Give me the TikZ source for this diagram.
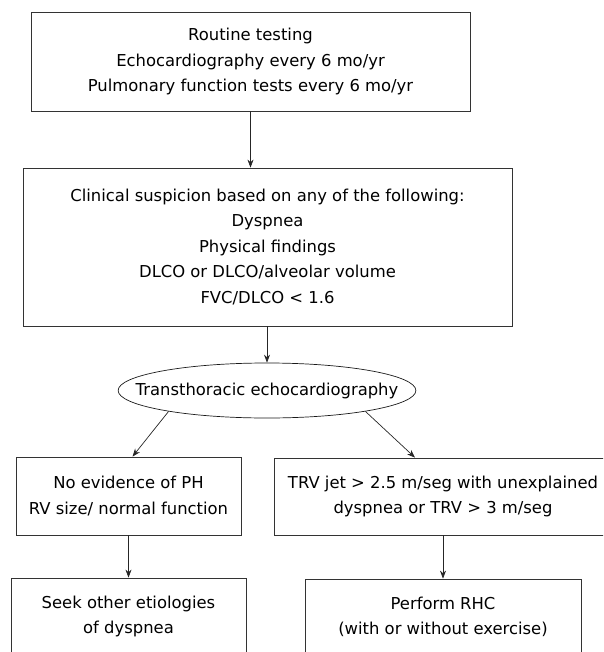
\documentclass[tikz,border=0pt]{standalone}
\usepackage{fontspec}
\setmainfont{DejaVu Sans}
\usetikzlibrary{arrows.meta,shapes.geometric}
\tikzset{
  box/.style={draw=black!80, line width=0.8pt, align=center, inner sep=0pt},
  oval/.style={ellipse, draw=black!90, line width=0.7pt, inner xsep=-26pt, inner ysep=0pt},
  arr/.style={-{Stealth[length=8pt,width=6pt]}, line width=0.7pt, draw=black!85},
}
\begin{document}
\begin{tikzpicture}[x=1pt,y=-1pt, font=\fontsize{16.4}{25.5}\selectfont]
\useasboundingbox (0,0) rectangle (603,652);
\clip (0,0) rectangle (603,652);
\node[box, minimum width=439pt, minimum height=99pt] (routine) at (250.5,61.5)
  {Routine testing\\Echocardiography every 6 mo/yr\\Pulmonary function tests every 6 mo/yr};
\node[box, minimum width=489pt, minimum height=158pt] (suspicion) at (267.5,247)
  {Clinical suspicion based on any of the following:\\Dyspnea\\Physical findings\\DLCO or DLCO/alveolar volume\\FVC/DLCO < 1.6};
\node[oval, minimum height=55pt] (tte) at (267,390.5)
  {Transthoracic echocardiography};
\node[box, minimum width=225pt, minimum height=78pt] (noph) at (128.5,496)
  {No evidence of PH\\RV size/ normal function};
\node[box, minimum width=338pt, minimum height=77pt] (trv) at (443,496.5)
  {TRV jet > 2.5 m/seg with unexplained\\dyspnea or TRV > 3 m/seg};
\node[box, minimum width=235pt, minimum height=77pt] (seek) at (128.5,616.5)
  {Seek other etiologies\\of dyspnea};
\node[box, minimum width=276pt, minimum height=76pt] (rhc) at (443,617)
  {Perform RHC\\(with or without exercise)};
% connectors
\draw[arr] (routine.south) -- (routine.south |- suspicion.north);
\draw[arr] (tte.north |- suspicion.south) -- (tte.north);
\draw[arr] (tte.192) -- ([xshift=4pt]noph.north);
\draw[arr] (tte.-12) -- ([xshift=-28pt]trv.north);
\draw[arr] (noph.south) -- (seek.north);
\draw[arr] (trv.south) -- (rhc.north);
\end{tikzpicture}
\end{document}
